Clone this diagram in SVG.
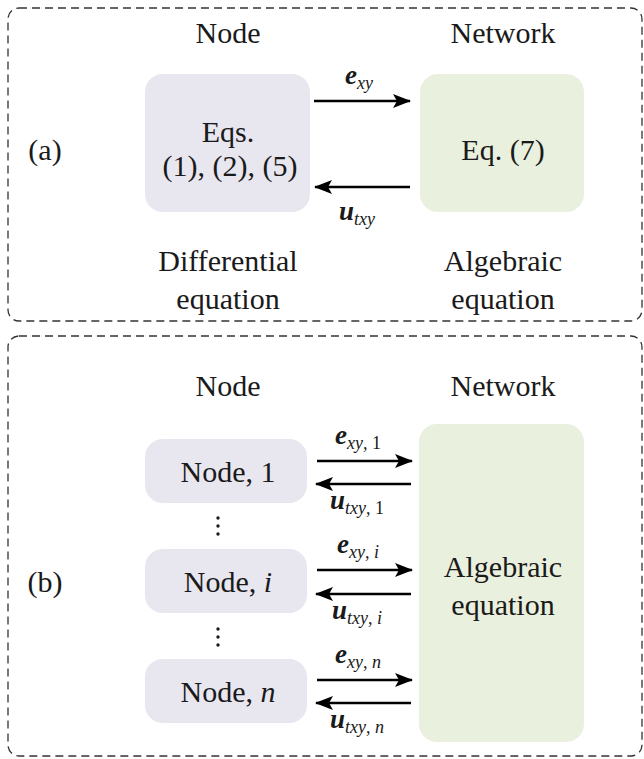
<svg xmlns="http://www.w3.org/2000/svg" width="644" height="759" viewBox="0 0 644 759">
<defs>
<marker id="ah" viewBox="0 0 18 14" refX="17" refY="7" markerWidth="18" markerHeight="14" orient="auto-start-reverse" markerUnits="userSpaceOnUse">
<path d="M0,0 L18,7 L0,14 L4,7 Z" fill="#000"/>
</marker>
<style>
.frame{fill:none;stroke:#333;stroke-width:1.3;stroke-dasharray:8,5}
.nd{fill:#e8e6ef}
.nw{fill:#eaf0de}
text{font-family:"Liberation Serif","Times New Roman","DejaVu Serif",serif}
.t{font-size:30px;text-anchor:middle}
.lb{font-size:27px;font-weight:bold;font-style:italic}
.sb{font-size:18px;font-style:italic}
.sn{font-size:18px}
.ar{stroke:#000;stroke-width:2.6;fill:none;marker-end:url(#ah)}
</style>
</defs>
<g fill="#1a1a1a">
<rect class="frame" x="8" y="8" width="634" height="313" rx="11"/>
<rect class="frame" x="8" y="336" width="634" height="420" rx="11"/>
<g id="label-a"><text class="t" x="45" y="160">(a)</text></g>
<g id="label-b"><text class="t" x="45" y="592">(b)</text></g>
<g id="headers">
<text class="t" x="228" y="43">Node</text>
<text class="t" x="503" y="43">Network</text>
<text class="t" x="228" y="396">Node</text>
<text class="t" x="503" y="396">Network</text>
<text class="t" x="228" y="271">Differential</text>
<text class="t" x="228" y="309">equation</text>
<text class="t" x="503" y="271">Algebraic</text>
<text class="t" x="503" y="309">equation</text>
</g>
<g id="node-a">
<rect class="nd" x="145" y="74" width="165" height="138" rx="18"/>
<text class="t" x="228" y="142">Eqs.</text>
<text class="t" x="230" y="176">(1), (2), (5)</text>
</g>
<g id="network-a">
<rect class="nw" x="420" y="74" width="164" height="138" rx="18"/>
<text class="t" x="503" y="160">Eq. (7)</text>
</g>
<g id="node-1">
<rect class="nd" x="145" y="439" width="162" height="64" rx="18"/>
<text class="t" x="228" y="482">Node, 1</text>
</g>
<g id="node-i">
<rect class="nd" x="145" y="549" width="162" height="64" rx="18"/>
<text class="t" x="228" y="592">Node, <tspan font-style="italic">i</tspan></text>
</g>
<g id="node-n">
<rect class="nd" x="145" y="659" width="162" height="64" rx="18"/>
<text class="t" x="228" y="702">Node, <tspan font-style="italic">n</tspan></text>
</g>
<g id="dots">
<circle cx="218" cy="518" r="1.7"/><circle cx="218" cy="526" r="1.7"/><circle cx="218" cy="534" r="1.7"/>
<circle cx="218" cy="629" r="1.7"/><circle cx="218" cy="637" r="1.7"/><circle cx="218" cy="645" r="1.7"/>
</g>
<g id="network-b">
<rect class="nw" x="419" y="424" width="165" height="318" rx="18"/>
<text class="t" x="503" y="577">Algebraic</text>
<text class="t" x="503" y="615">equation</text>
</g>
<g id="connectors">
<line class="ar" x1="314" y1="101" x2="410" y2="101"/>
<line class="ar" x1="410" y1="187" x2="315" y2="187"/>
<line class="ar" x1="317" y1="461" x2="412" y2="461"/>
<line class="ar" x1="411" y1="484" x2="316" y2="484"/>
<line class="ar" x1="317" y1="570" x2="412" y2="570"/>
<line class="ar" x1="411" y1="594" x2="316" y2="594"/>
<line class="ar" x1="317" y1="680" x2="412" y2="680"/>
<line class="ar" x1="411" y1="703" x2="316" y2="703"/>
</g>
<g id="labels">
<text x="345" y="84"><tspan class="lb">e</tspan><tspan class="sb" dy="5">xy</tspan></text>
<text x="339" y="220"><tspan class="lb">u</tspan><tspan class="sb" dy="5">txy</tspan></text>
<text x="335" y="444"><tspan class="lb">e</tspan><tspan class="sb" dy="5">xy</tspan><tspan class="sn">, 1</tspan></text>
<text x="330" y="509"><tspan class="lb">u</tspan><tspan class="sb" dy="5">txy</tspan><tspan class="sn">, 1</tspan></text>
<text x="337" y="553"><tspan class="lb">e</tspan><tspan class="sb" dy="5">xy</tspan><tspan class="sn">, </tspan><tspan class="sb">i</tspan></text>
<text x="332" y="619"><tspan class="lb">u</tspan><tspan class="sb" dy="5">txy</tspan><tspan class="sn">, </tspan><tspan class="sb">i</tspan></text>
<text x="335" y="663"><tspan class="lb">e</tspan><tspan class="sb" dy="5">xy</tspan><tspan class="sn">, </tspan><tspan class="sb">n</tspan></text>
<text x="330" y="728"><tspan class="lb">u</tspan><tspan class="sb" dy="5">txy</tspan><tspan class="sn">, </tspan><tspan class="sb">n</tspan></text>
</g>
</g>
</svg>
